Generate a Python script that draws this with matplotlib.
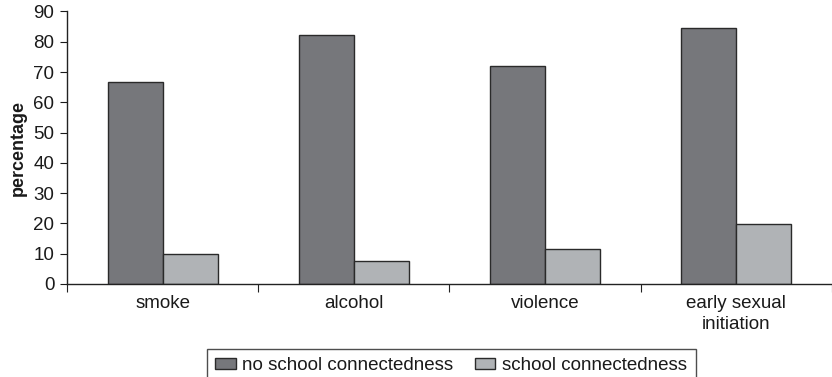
import numpy as np
import matplotlib.pyplot as plt

plt.rcParams['font.family'] = ['Liberation Sans', 'DejaVu Sans']

# Data
categories = ['smoke', 'alcohol', 'violence', 'early sexual\ninitiation']
no_connect = [66.7, 82.4, 72.1, 84.5]
connect = [9.9, 7.7, 11.5, 19.7]
y_ticks = [0, 10, 20, 30, 40, 50, 60, 70, 80, 90]

fig = plt.figure(figsize=(8.32, 3.77), dpi=100)
ax = fig.add_axes([0.0805, 0.2467, 0.9195, 0.7228])

x = np.arange(len(categories))
w = 0.288
ax.bar(x - w/2, no_connect, w, color='#76777b', edgecolor='#2a2a2a', linewidth=1.0,
       label='no school connectedness')
ax.bar(x + w/2, connect, w, color='#b0b3b6', edgecolor='#2a2a2a', linewidth=1.0,
       label='school connectedness')

ax.set_xlim(-0.5, len(categories) - 0.5)
ax.set_ylim(0, 90)
ax.set_yticks(y_ticks)
ax.tick_params(axis='y', labelsize=13.5, length=5, direction='out', colors='#1a1a1a', pad=4)
ax.set_xticks(np.arange(len(categories) + 1) - 0.5)
ax.set_xticklabels([])
ax.set_xticks(x, minor=True)
ax.set_xticklabels(categories, minor=True, fontsize=13.5, color='#1a1a1a', linespacing=1.3)
ax.tick_params(axis='x', which='major', length=6, direction='out', color='#222222')
ax.tick_params(axis='x', which='minor', length=0, pad=8)

for s in ['top', 'right']:
    ax.spines[s].set_visible(False)
for s in ['left', 'bottom']:
    ax.spines[s].set_color('#222222')
    ax.spines[s].set_linewidth(1.0)

ax.set_ylabel('percentage', fontsize=13, fontweight='bold', labelpad=5, color='#1a1a1a')

leg = fig.legend(loc='upper left', bbox_to_anchor=(207/832, 1 - 349/377), ncol=2,
                 fontsize=13.5, frameon=True, fancybox=False, edgecolor='#222222',
                 handlelength=1.07, handleheight=0.55, columnspacing=1.15,
                 handletextpad=0.37, borderpad=0.45, borderaxespad=0)
leg.get_frame().set_linewidth(1.0)
for t in leg.get_texts():
    t.set_color('#1a1a1a')

fig.savefig('out.png', dpi=100)
